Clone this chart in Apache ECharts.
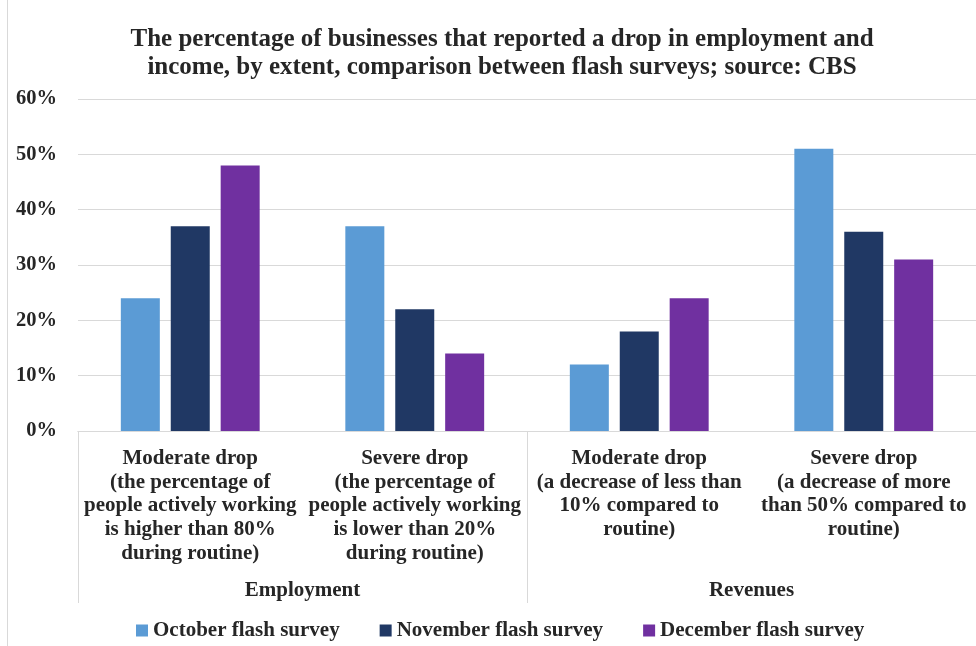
<!DOCTYPE html>
<html>
<head>
<meta charset="utf-8">
<script src="https://cdn.jsdelivr.net/npm/echarts@6/dist/echarts.min.js"></script>
<style>
html, body { margin: 0; padding: 0; background: #fff; }
#chart { width: 976px; height: 646px; }
</style>
</head>
<body>
<div id="chart"></div>
<script>
// categories and groups
const categories = [
    'Moderate drop\n(the percentage of\npeople actively working\nis higher than 80%\nduring routine)',
    'Severe drop\n(the percentage of\npeople actively working\nis lower than 20%\nduring routine)',
    'Moderate drop\n(a decrease of less than\n10% compared to\nroutine)',
    'Severe drop\n(a decrease of more\nthan 50% compared to\nroutine)'
]
const groups = ['Employment', 'Revenues']

// series values (%)
const octoberValues = [24, 37, 12, 51]
const novemberValues = [37, 22, 18, 36]
const decemberValues = [48, 14, 24, 31]

const seriesNames = ['October flash survey', 'November flash survey', 'December flash survey']
const seriesColors = ['#5B9BD5', '#203864', '#7030A0']

const font = 'Liberation Serif'
const textColor = '#262626'

const chart = echarts.init(document.getElementById('chart'))

const option = {
    backgroundColor: '#fff',
    animation: false,
    title: {
        text: 'The percentage of businesses that reported a drop in employment and\nincome, by extent, comparison between flash surveys; source: CBS',
        left: 497,
        textAlign: 'center',
        top: 21,
        textStyle: {
            fontFamily: font,
            fontWeight: 'bold',
            fontSize: 25,
            lineHeight: 28,
            color: textColor
        }
    },
    legend: {
        data: seriesNames,
        left: 131,
        top: 615,
        icon: 'rect',
        itemWidth: 12,
        itemHeight: 12,
        itemGap: 40,
        textStyle: {
            fontFamily: font,
            fontWeight: 'bold',
            fontSize: 21,
            color: textColor
        }
    },
    grid: {
        left: 78,
        right: 0,
        top: 99,
        bottom: 215,
        containLabel: false
    },
    xAxis: [
        {
            type: 'category',
            data: categories,
            axisLine: { lineStyle: { color: '#d9d9d9' } },
            axisTick: { show: false },
            axisLabel: {
                interval: 0,
                margin: 16,
                fontFamily: font,
                fontWeight: 'bold',
                fontSize: 21,
                lineHeight: 23.6,
                color: textColor,
                verticalAlign: 'top'
            }
        },
        {
            type: 'category',
            data: groups,
            position: 'bottom',
            axisLine: { lineStyle: { color: '#d9d9d9' } },
            axisTick: {
                show: true,
                length: 172,
                lineStyle: { color: '#d9d9d9' }
            },
            axisLabel: {
                interval: 0,
                margin: 149,
                fontFamily: font,
                fontWeight: 'bold',
                fontSize: 21,
                color: textColor
            }
        }
    ],
    yAxis: {
        type: 'value',
        min: 0,
        max: 60,
        interval: 10,
        axisLine: { show: false },
        axisTick: { show: false },
        splitLine: { lineStyle: { color: '#d9d9d9', width: 1 } },
        axisLabel: {
            margin: 21,
            formatter: '{value}%',
            fontFamily: font,
            fontWeight: 'bold',
            fontSize: 20.5,
            color: textColor
        }
    },
    graphic: [
        {
            type: 'line',
            shape: { x1: 7.5, y1: 0, x2: 7.5, y2: 646 },
            style: { stroke: '#d9d9d9', lineWidth: 1 }
        }
    ],
    series: [octoberValues, novemberValues, decemberValues].map((vals, i) => ({
        name: seriesNames[i],
        type: 'bar',
        xAxisIndex: 0,
        data: vals,
        barWidth: 39,
        barGap: '28%',
        itemStyle: { color: seriesColors[i] }
    }))
}

chart.setOption(option)
</script>
</body>
</html>
